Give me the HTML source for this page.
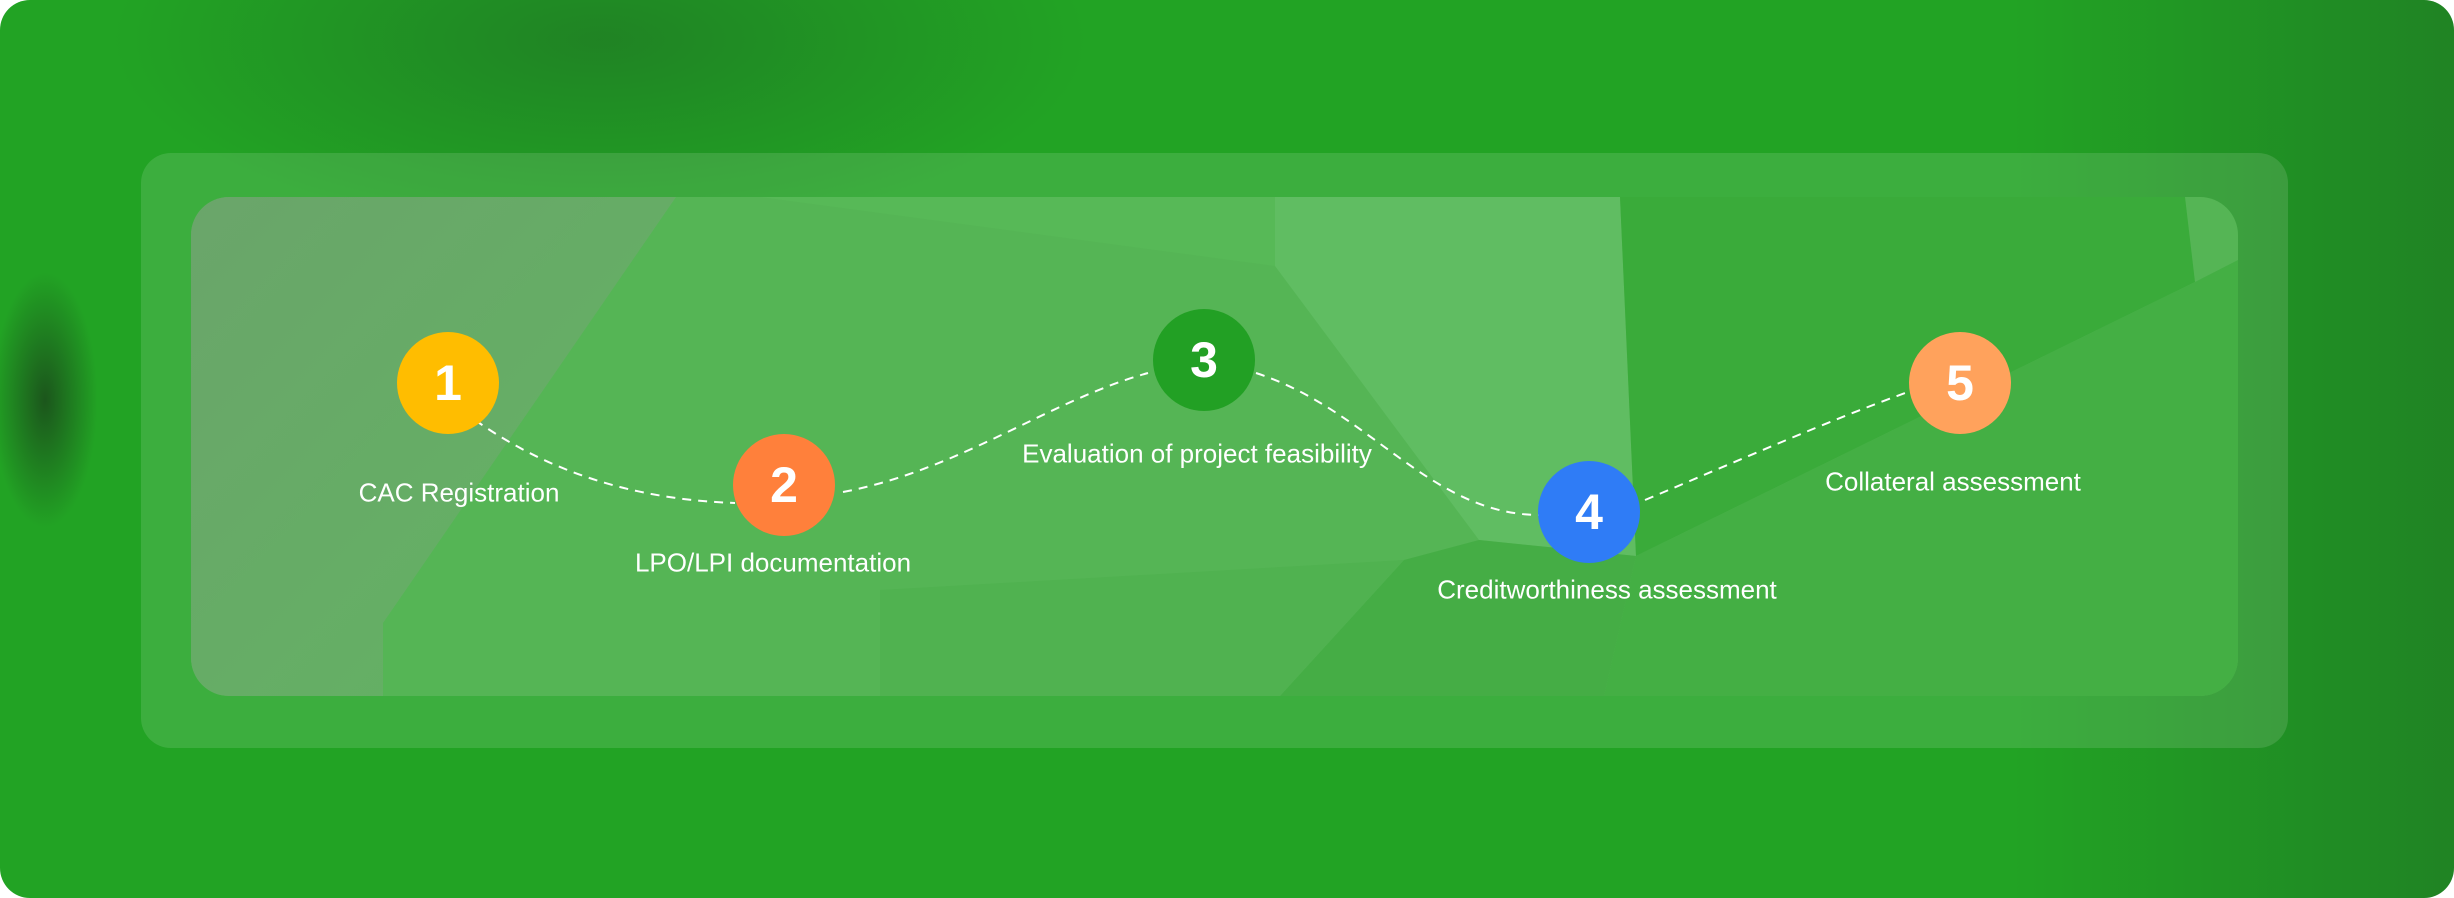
<!DOCTYPE html>
<html><head><meta charset="utf-8"><style>
html,body{margin:0;padding:0;width:2454px;height:898px;overflow:hidden;background:#fff}
.card{position:absolute;left:0;top:0;width:2454px;height:898px;border-radius:30px;overflow:hidden;
background:
radial-gradient(ellipse 70px 170px at 45px 400px,rgba(25,60,25,0.75),rgba(25,60,25,0) 75%),
radial-gradient(ellipse 650px 260px at 600px 40px,rgba(30,110,35,0.6),rgba(30,110,35,0) 75%),
linear-gradient(90deg,rgba(0,0,0,0) 82%,rgba(30,110,35,0.6) 100%),
#22a324;}
.mid{position:absolute;left:141px;top:153px;width:2147px;height:595px;border-radius:30px;background:rgba(255,255,255,0.12)}
.inner{position:absolute;left:191px;top:197px;width:2047px;height:499px;border-radius:38px;overflow:hidden;background:#55b555}
svg{position:absolute;left:0;top:0}
.c{position:absolute;width:102px;height:102px;border-radius:50%;color:#fff;font:bold 50px "Liberation Sans",sans-serif;text-align:center;line-height:102px}
.t{position:absolute;color:#fff;font:26px "Liberation Sans",sans-serif;white-space:nowrap;transform:translate(-50%,-50%)}
</style></head><body>
<div class="card">
<div class="mid"></div>
<div class="inner">
<svg width="2047" height="499" viewBox="191 197 2047 499">
<defs><linearGradient id="lg" x1="0" y1="0" x2="1" y2="1"><stop offset="0" stop-color="#6aa56a"/><stop offset="1" stop-color="#62b462"/></linearGradient></defs>
<polygon points="191,197 676,197 383,623 383,696 191,696" fill="url(#lg)"/>
<polygon points="676,197 1275,197 1275,266 760,197" fill="#57b957"/>
<polygon points="1275,197 1620,197 1636,556 1479,540 1275,266" fill="#60bd62"/>
<polygon points="1620,197 2185,197 2195,282 1636,556" fill="#3aab3a"/>
<polygon points="1636,556 2195,282 2238,260 2238,696 1604,696" fill="#44af44"/>
<polygon points="1404,560 1479,540 1636,556 1604,696 1280,696" fill="#45ad45"/>
<polygon points="880,590 1404,560 1280,696 880,696" fill="#50b250"/>
</svg>
</div>
<svg width="2454" height="898">
<path d="M475,420 C560,480 650,500 735,503 M843,492 C960,470 1050,400 1148,373 M1256,373 C1370,410 1430,515 1540,515 M1645,500 C1740,460 1830,420 1908,392" fill="none" stroke="#fff" stroke-width="2" stroke-dasharray="9,7"/>
</svg>
<div class="c" style="left:397px;top:332px;background:#ffbd00">1</div>
<div class="c" style="left:733px;top:434px;background:#ff803b">2</div>
<div class="c" style="left:1153px;top:309px;background:#22a024">3</div>
<div class="c" style="left:1538px;top:461px;background:#2f7cf6">4</div>
<div class="c" style="left:1909px;top:332px;background:#ffa25c">5</div>
<div class="t" style="left:459px;top:493px">CAC Registration</div>
<div class="t" style="left:773px;top:563px">LPO/LPI documentation</div>
<div class="t" style="left:1197px;top:454px">Evaluation of project feasibility</div>
<div class="t" style="left:1607px;top:590px">Creditworthiness assessment</div>
<div class="t" style="left:1953px;top:482px">Collateral assessment</div>
</div>
</body></html>
